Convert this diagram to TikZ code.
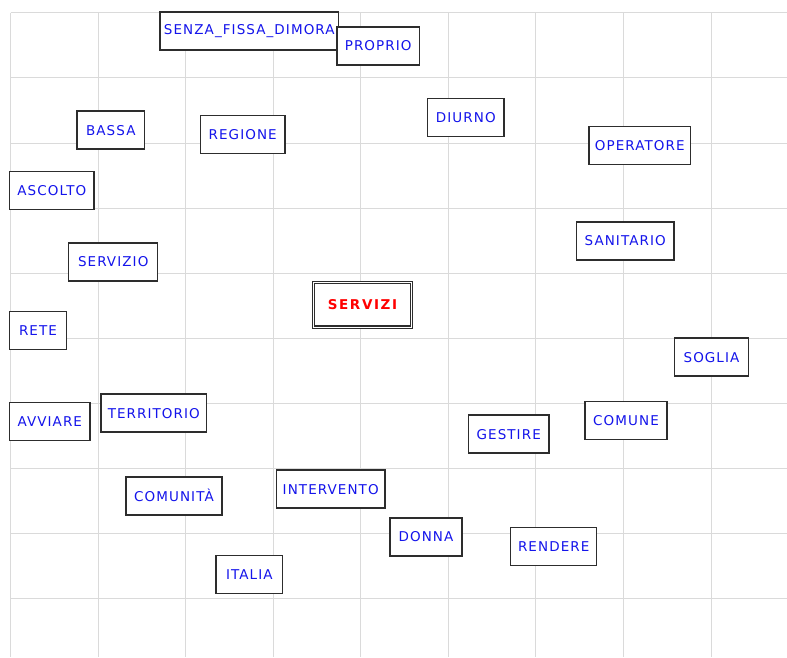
\documentclass[tikz,border=0pt]{standalone}
\usepackage{fontspec}
\newfontfamily\labfont[LetterSpace=8]{DejaVu Sans}
\newfontfamily\labfontbold[LetterSpace=12]{DejaVu Sans Bold}
\definecolor{gridgray}{RGB}{218,218,218}
\definecolor{boxline}{RGB}{45,45,45}
\definecolor{labblue}{RGB}{20,20,235}
\definecolor{labred}{RGB}{255,0,0}
\tikzset{
  kw/.style={draw=boxline, line width=1.5pt, fill=white, rectangle, inner sep=0pt,
    minimum height=38pt, text=labblue, font=\labfont\fontsize{13.5}{13.5}\selectfont},
  mainkw/.style={draw=boxline, line width=1.2pt,
    fill=white, rectangle, inner sep=0pt, text=labred,
    font=\labfontbold\fontsize{13.5}{13.5}\selectfont},
  innerframe/.style={draw=boxline, line width=1.2pt},
  gridline/.style={draw=gridgray, line width=1.3pt}
}
\begin{document}
\begin{tikzpicture}[x=1pt,y=-1pt]
\useasboundingbox (0,0) rectangle (787,657);
% grid
\foreach \gx in {10.5,98.5,185.5,273.5,360.5,448.5,535.5,623.5,711.5}
  \draw[gridline] (\gx,12.5) -- (\gx,657);
\foreach \gy in {12.5,77.5,143.5,208.5,273.5,338.5,403.5,468.5,533.5,598.5}
  \draw[gridline] (10.5,\gy) -- (787,\gy);
% nodes
\node[kw, minimum width=178.7pt] (senza) at (249.3,31) {SENZA\_FISSA\_DIMORA};
\node[kw, minimum width=82.3pt] (proprio) at (378.2,46) {PROPRIO};
\node[kw, minimum width=67.7pt] (bassa) at (110.8,130.2) {BASSA};
\node[kw, minimum width=84.7pt] (regione) at (242.7,134.5) {REGIONE};
\node[kw, minimum width=84.3pt] (ascolto) at (51.8,190.7) {ASCOLTO};
\node[kw, minimum width=76.3pt] (diurno) at (465.8,117.7) {DIURNO};
\node[kw, minimum width=101.7pt] (operatore) at (639.8,145.7) {OPERATORE};
\node[kw, minimum width=89pt] (servizio) at (113.2,262) {SERVIZIO};
\node[mainkw, minimum width=100.4pt, minimum height=47pt] (servizi) at (362.5,304.8) {SERVIZI};
\draw[innerframe] ([shift={(3,3)}]servizi.north west) rectangle ([shift={(-3,-3)}]servizi.south east);
\node[kw, minimum width=56.6pt] (rete) at (38,330.7) {RETE};
\node[kw, minimum width=80.3pt] (avviare) at (49.8,421.7) {AVVIARE};
\node[kw, minimum width=105.7pt] (territorio) at (153.8,413.2) {TERRITORIO};
\node[kw, minimum width=97.7pt] (sanitario) at (625.2,241) {SANITARIO};
\node[kw, minimum width=73.6pt] (soglia) at (711.5,357.2) {SOGLIA};
\node[kw, minimum width=82pt] (comune) at (626,420.3) {COMUNE};
\node[kw, minimum width=80.7pt] (gestire) at (508.7,434.2) {GESTIRE};
\node[kw, minimum width=96pt] (comunita) at (174,495.8) {COMUNITÀ};
\node[kw, minimum width=108.7pt] (intervento) at (330.7,489.2) {INTERVENTO};
\node[kw, minimum width=72pt] (donna) at (426,536.8) {DONNA};
\node[kw, minimum width=66.7pt] (italia) at (249.3,574.7) {ITALIA};
\node[kw, minimum width=86pt] (rendere) at (553.7,546.5) {RENDERE};
\end{tikzpicture}
\end{document}
